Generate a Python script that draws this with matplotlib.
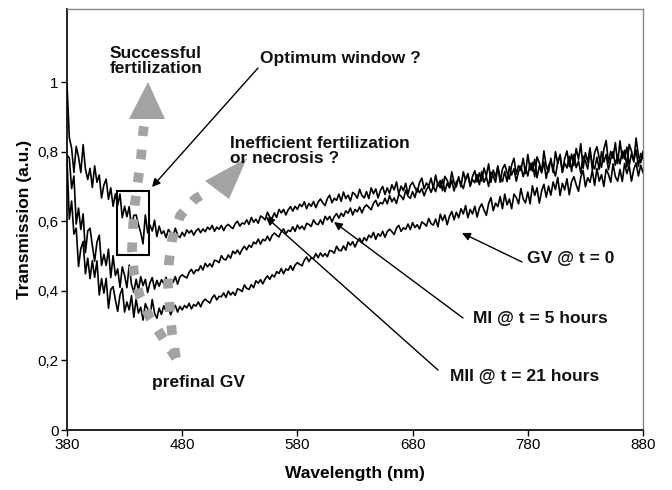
import matplotlib
matplotlib.use("Agg")
import matplotlib.pyplot as plt
from matplotlib.patches import Rectangle, Polygon
from matplotlib.ticker import FuncFormatter

plt.rcParams['font.family'] = ['Liberation Sans', 'DejaVu Sans']

# wavelength grid (nm), 2 nm steps: 380 ... 880
wavelength = list(range(380, 881, 2))

# MII @ t = 21 hours (upper curve)
t_mii = [
    0.995, 0.84, 0.81, 0.74, 0.815, 0.785, 0.74, 0.82, 0.75, 0.72,
    0.752, 0.697, 0.759, 0.712, 0.733, 0.667, 0.704, 0.721, 0.663, 0.696,
    0.643, 0.679, 0.646, 0.678, 0.610, 0.643, 0.613, 0.642, 0.581, 0.617,
    0.618, 0.591, 0.567, 0.535, 0.618, 0.567, 0.589, 0.572, 0.603, 0.556,
    0.586, 0.564, 0.572, 0.553, 0.576, 0.568, 0.555, 0.580, 0.561, 0.553,
    0.568, 0.557, 0.575, 0.566, 0.574, 0.560, 0.572, 0.579, 0.567, 0.578,
    0.570, 0.583, 0.576, 0.588, 0.571, 0.583, 0.577, 0.588, 0.573, 0.586,
    0.591, 0.584, 0.579, 0.593, 0.600, 0.586, 0.595, 0.592, 0.604, 0.591,
    0.611, 0.597, 0.606, 0.594, 0.615, 0.611, 0.604, 0.626, 0.612, 0.608,
    0.624, 0.611, 0.634, 0.624, 0.634, 0.618, 0.633, 0.642, 0.629, 0.643,
    0.634, 0.649, 0.642, 0.656, 0.636, 0.651, 0.643, 0.657, 0.639, 0.655,
    0.664, 0.653, 0.645, 0.665, 0.675, 0.653, 0.666, 0.660, 0.678, 0.657,
    0.684, 0.665, 0.675, 0.658, 0.683, 0.677, 0.666, 0.692, 0.674, 0.667,
    0.685, 0.665, 0.696, 0.679, 0.693, 0.667, 0.688, 0.700, 0.677, 0.696,
    0.680, 0.705, 0.690, 0.713, 0.678, 0.701, 0.688, 0.709, 0.678, 0.703,
    0.712, 0.697, 0.684, 0.711, 0.724, 0.693, 0.710, 0.701, 0.724, 0.695,
    0.733, 0.701, 0.717, 0.688, 0.729, 0.718, 0.698, 0.742, 0.711, 0.699,
    0.728, 0.699, 0.742, 0.718, 0.737, 0.700, 0.729, 0.745, 0.713, 0.739,
    0.715, 0.753, 0.730, 0.765, 0.712, 0.747, 0.727, 0.759, 0.712, 0.750,
    0.763, 0.740, 0.721, 0.762, 0.781, 0.735, 0.760, 0.746, 0.781, 0.737,
    0.792, 0.747, 0.769, 0.728, 0.785, 0.768, 0.742, 0.802, 0.758, 0.741,
    0.781, 0.740, 0.800, 0.766, 0.792, 0.740, 0.780, 0.802, 0.757, 0.793,
    0.760, 0.809, 0.778, 0.823, 0.752, 0.797, 0.770, 0.811, 0.748, 0.797,
    0.814, 0.782, 0.755, 0.807, 0.832, 0.768, 0.801, 0.781, 0.826, 0.766,
    0.831, 0.780, 0.804, 0.756, 0.821, 0.802, 0.770, 0.839, 0.788, 0.768,
    0.800]

# MI @ t = 5 hours (middle curve)
t_mi = [
    0.79, 0.782, 0.694, 0.73, 0.592, 0.638, 0.576, 0.621, 0.51, 0.572,
    0.58, 0.53, 0.485, 0.54, 0.56, 0.473, 0.505, 0.473, 0.52, 0.438,
    0.501, 0.444, 0.463, 0.41, 0.469, 0.445, 0.409, 0.474, 0.418, 0.396,
    0.433, 0.401, 0.441, 0.415, 0.433, 0.395, 0.423, 0.438, 0.405, 0.43,
    0.413, 0.432, 0.421, 0.439, 0.414, 0.433, 0.424, 0.441, 0.419, 0.44,
    0.446, 0.441, 0.437, 0.453, 0.462, 0.449, 0.46, 0.458, 0.472, 0.46,
    0.479, 0.469, 0.478, 0.469, 0.488, 0.486, 0.481, 0.501, 0.491, 0.489,
    0.503, 0.494, 0.514, 0.507, 0.517, 0.505, 0.519, 0.528, 0.518, 0.531,
    0.525, 0.54, 0.535, 0.549, 0.534, 0.548, 0.544, 0.557, 0.544, 0.559,
    0.566, 0.56, 0.555, 0.57, 0.578, 0.564, 0.574, 0.571, 0.584, 0.571,
    0.589, 0.578, 0.586, 0.576, 0.594, 0.591, 0.585, 0.604, 0.593, 0.59,
    0.604, 0.591, 0.614, 0.604, 0.614, 0.598, 0.613, 0.622, 0.609, 0.623,
    0.614, 0.63, 0.623, 0.638, 0.618, 0.634, 0.627, 0.641, 0.624, 0.64,
    0.647, 0.64, 0.633, 0.651, 0.66, 0.643, 0.654, 0.65, 0.666, 0.65,
    0.674, 0.656, 0.667, 0.651, 0.677, 0.672, 0.662, 0.689, 0.672, 0.666,
    0.685, 0.668, 0.695, 0.682, 0.694, 0.673, 0.691, 0.701, 0.683, 0.70,
    0.685, 0.711, 0.696, 0.72, 0.685, 0.709, 0.696, 0.718, 0.687, 0.713,
    0.722, 0.707, 0.694, 0.721, 0.734, 0.703, 0.72, 0.711, 0.734, 0.705,
    0.743, 0.712, 0.728, 0.70, 0.741, 0.73, 0.712, 0.756, 0.725, 0.714,
    0.743, 0.714, 0.757, 0.733, 0.751, 0.715, 0.743, 0.759, 0.728, 0.754,
    0.73, 0.767, 0.744, 0.778, 0.725, 0.759, 0.739, 0.77, 0.723, 0.76,
    0.773, 0.75, 0.73, 0.770, 0.789, 0.742, 0.767, 0.753, 0.787, 0.743,
    0.792, 0.754, 0.773, 0.738, 0.787, 0.773, 0.750, 0.802, 0.764, 0.75,
    0.784, 0.749, 0.8, 0.77, 0.792, 0.748, 0.778, 0.800, 0.761, 0.792,
    0.765, 0.802, 0.779, 0.813, 0.76, 0.794, 0.774, 0.805, 0.758, 0.795,
    0.78]

# GV @ t = 0 (lower curve)
t_gv = [
    0.778, 0.606, 0.658, 0.563, 0.58, 0.47, 0.521, 0.542, 0.449, 0.494,
    0.435, 0.487, 0.439, 0.486, 0.388, 0.435, 0.393, 0.436, 0.35, 0.404,
    0.412, 0.374, 0.341, 0.388, 0.407, 0.339, 0.368, 0.345, 0.386, 0.324,
    0.377, 0.336, 0.353, 0.316, 0.363, 0.348, 0.324, 0.375, 0.336, 0.321,
    0.35, 0.332, 0.357, 0.342, 0.354, 0.331, 0.349, 0.358, 0.339, 0.355,
    0.345, 0.358, 0.351, 0.364, 0.348, 0.361, 0.356, 0.368, 0.354, 0.369,
    0.376, 0.37, 0.365, 0.38, 0.388, 0.374, 0.384, 0.383, 0.394, 0.381,
    0.399, 0.388, 0.396, 0.387, 0.406, 0.403, 0.398, 0.417, 0.407, 0.404,
    0.418, 0.409, 0.429, 0.422, 0.432, 0.42, 0.434, 0.443, 0.433, 0.446,
    0.44, 0.455, 0.45, 0.464, 0.449, 0.463, 0.459, 0.472, 0.459, 0.474,
    0.481, 0.476, 0.472, 0.488, 0.497, 0.484, 0.495, 0.493, 0.507, 0.495,
    0.509, 0.499, 0.507, 0.498, 0.516, 0.514, 0.508, 0.528, 0.517, 0.515,
    0.529, 0.517, 0.54, 0.531, 0.541, 0.526, 0.541, 0.551, 0.538, 0.553,
    0.544, 0.56, 0.553, 0.568, 0.548, 0.564, 0.557, 0.571, 0.554, 0.57,
    0.577, 0.57, 0.562, 0.580, 0.588, 0.571, 0.581, 0.577, 0.592, 0.576,
    0.596, 0.582, 0.59, 0.578, 0.598, 0.593, 0.586, 0.608, 0.593, 0.589,
    0.606, 0.584, 0.62, 0.602, 0.618, 0.59, 0.614, 0.628, 0.604, 0.626,
    0.61, 0.636, 0.621, 0.645, 0.61, 0.634, 0.621, 0.643, 0.612, 0.638,
    0.65, 0.632, 0.617, 0.651, 0.668, 0.63, 0.652, 0.642, 0.671, 0.636,
    0.678, 0.647, 0.664, 0.636, 0.678, 0.668, 0.65, 0.694, 0.664, 0.653,
    0.684, 0.65, 0.702, 0.674, 0.696, 0.652, 0.687, 0.706, 0.669, 0.701,
    0.675, 0.713, 0.691, 0.726, 0.674, 0.709, 0.69, 0.722, 0.676, 0.714,
    0.728, 0.705, 0.686, 0.727, 0.746, 0.699, 0.725, 0.712, 0.746, 0.703,
    0.752, 0.715, 0.734, 0.700, 0.749, 0.735, 0.712, 0.765, 0.728, 0.715,
    0.749, 0.714, 0.766, 0.737, 0.759, 0.715, 0.749, 0.768, 0.73, 0.761,
    0.74]

x_ticks = [380, 480, 580, 680, 780, 880]
y_ticks = [0, 0.2, 0.4, 0.6, 0.8, 1.0]

W, H = 672, 490
fig = plt.figure(figsize=(W / 100, H / 100), dpi=100)
L, R, T, B = 67, 643, 9, 430
ax = fig.add_axes([L / W, 1 - B / H, (R - L) / W, (B - T) / H])

for series in (t_gv, t_mi, t_mii):
    ax.plot(wavelength, series, color='black', lw=1.2, zorder=3)

ax.set_xlim(380, 880)
ax.set_ylim(0, 1.21)
ax.set_xticks(x_ticks)
ax.set_yticks(y_ticks)
ax.yaxis.set_major_formatter(FuncFormatter(
    lambda v, p: ('%g' % v).replace('.', ',')))
ax.tick_params(direction='out', length=4, width=1, labelsize=11, pad=2)
for s in ('left', 'bottom'):
    ax.spines[s].set_linewidth(1.4)
    ax.spines[s].set_color('#222222')
for s in ('top', 'right'):
    ax.spines[s].set_linewidth(1.0)
    ax.spines[s].set_color('#888888')

ax.set_xlabel('Wavelength (nm)', fontsize=12.5, fontweight='bold', labelpad=10)
ax.set_ylabel('Transmission (a.u.)', fontsize=12.5, fontweight='bold', labelpad=4)


def P(px, py):
    """image pixel -> data coordinates (annotations only)"""
    return 380 + (px - L) * 500.0 / (R - L), (B - py) * 1.21 / (B - T)


# box marking the optimum window
x0, y0 = P(117, 255)
x1, y1 = P(149, 191)
ax.add_patch(Rectangle((x0, y0), x1 - x0, y1 - y0, fill=False,
                       ec='black', lw=1.5, zorder=5))

gray = '#a3a3a3'
# gray dotted arrows
path1 = [(176, 358), (163, 338), (150, 318), (140, 297), (134, 273),
         (132, 250), (133, 227), (135, 203), (138, 180), (141, 158),
         (143, 133), (145, 119)]
path2 = [(176, 358), (172, 333), (170, 310), (168, 285), (169, 262),
         (172, 240), (180, 216), (195, 199), (211, 189)]
for path in (path1, path2):
    pts = [P(*p) for p in path]
    ax.plot([p[0] for p in pts], [p[1] for p in pts], color=gray, lw=7.0,
            dashes=(1.0, 1.4), solid_capstyle='butt', dash_capstyle='butt',
            solid_joinstyle='miter', dash_joinstyle='miter', zorder=4)
head1 = [P(148, 82), P(129, 119), P(165, 119)]
head2 = [P(247, 158), P(205, 181), P(229, 199)]
for h in (head1, head2):
    ax.add_patch(Polygon(h, closed=True, fc=gray, ec='none', zorder=4))

# texts
bold = dict(fontsize=12.5, fontweight='bold', color='#111111', zorder=6)
ax.text(*P(156, 61), 'Successful\nfertilization', ha='center', va='center',
        linespacing=1.05, **bold)
ax.text(*P(260, 58), 'Optimum window ?', ha='left', va='center', **bold)
ax.text(*P(230, 151), 'Inefficient fertilization\nor necrosis ?', ha='left',
        va='center', linespacing=1.0, **bold)
ax.text(*P(199, 382), 'prefinal GV', ha='center', va='center', **bold)
ax.text(*P(527, 258), 'GV @ t = 0', ha='left', va='center', **bold)
ax.text(*P(473, 319), 'MI @ t = 5 hours', ha='left', va='center', **bold)
ax.text(*P(450, 377), 'MII @ t = 21 hours', ha='left', va='center', **bold)

# black pointer arrows
arrows = [((258, 68), (152, 187)),
          ((522, 262), (462, 233)),
          ((463, 318), (334, 222)),
          ((438, 370), (266, 217))]
for (sx, sy), (ex, ey) in arrows:
    ax.annotate('', xy=P(ex, ey), xytext=P(sx, sy),
                arrowprops=dict(arrowstyle='-|>', color='black', lw=1.0,
                                mutation_scale=12, shrinkA=0, shrinkB=0),
                zorder=6)

fig.savefig('out.png', dpi=100)
